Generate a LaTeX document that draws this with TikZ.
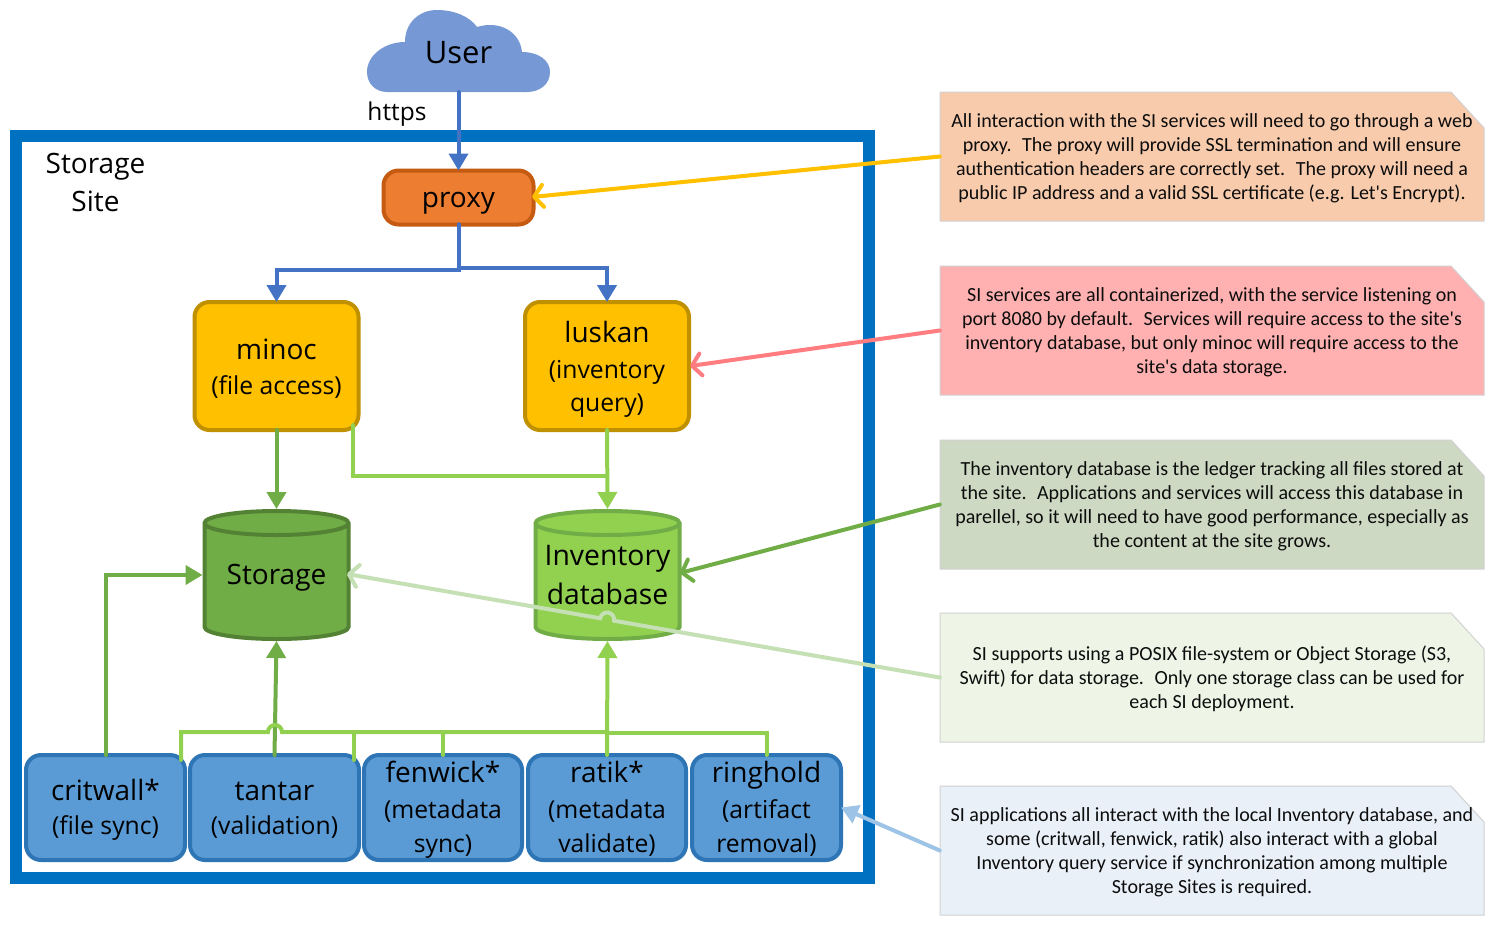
\documentclass[tikz,border=0pt]{standalone}
\usepackage{fontspec}
\setmainfont{Open Sans}
\newfontfamily\notefont{Carlito}
\usetikzlibrary{arrows.meta}
\definecolor{cframe}{HTML}{0070C0}
\definecolor{cblue}{HTML}{4472C4}
\definecolor{cgreen}{HTML}{70AD47}
\definecolor{clime}{HTML}{92D050}
\definecolor{cyellow}{HTML}{FFC000}
\definecolor{cpink}{HTML}{FF7C80}
\definecolor{cpale}{HTML}{C5E0B4}
\definecolor{csky}{HTML}{9DC3E6}
\definecolor{amberline}{HTML}{BF9000}
\definecolor{appline}{HTML}{2E75B6}
\definecolor{appfill}{HTML}{5B9BD5}
\definecolor{cloudc}{HTML}{7698D4}
\definecolor{proxyline}{HTML}{C55A11}
\definecolor{proxyfill}{HTML}{ED7D31}
\definecolor{cylD}{HTML}{548235}
\definecolor{noteA}{HTML}{F8CBAD}
\definecolor{noteB}{HTML}{FFB0B0}
\definecolor{noteC}{HTML}{CDD9C3}
\definecolor{noteD}{HTML}{EEF5E7}
\definecolor{noteE}{HTML}{E9F0F8}
\newcommand{\bigtxt}{\fontsize{28}{30}\selectfont}
\newcommand{\Tp}{\rule{0pt}{27.5pt}}
\newcommand{\Bt}{\rule[-8pt]{0pt}{0pt}}
\newcommand{\Ta}{\rule{0pt}{32pt}}
\newcommand{\Ba}{\rule[-10pt]{0pt}{0pt}}
\newcommand{\Nt}{\rule{0pt}{18pt}}
\tikzset{
  x=1pt,y=-1pt,
  conn/.style={line width=4pt,line cap=round,line join=miter},
  tip/.style={-{Triangle[length=17pt,width=19pt]}},
  barb/.style={-{Straight Barb[length=9pt,width=22pt,round]}},
  svc/.style={rounded corners=15pt,line width=4pt,align=center,inner sep=0pt,outer sep=0pt,text=black,
    font=\fontsize{24.7}{30}\selectfont},
  amber/.style={svc,draw=amberline,fill=cyellow,minimum width=164pt,minimum height=128pt},
  app/.style={svc,draw=appline,fill=appfill,minimum height=105pt},
  notebox/.style={line width=1pt,draw=black!18},
  notetxt/.style={minimum width=544pt,minimum height=129pt,inner sep=0pt,align=center,
    font=\notefont\fontsize{20.04}{24}\selectfont,text=black!95},
  cylbody/.style={line width=4pt},
  lbl/.style={align=center,inner sep=0pt,font=\fontsize{24.5}{38}\selectfont}
}
\newcommand{\notepoly}[2]{%
  \draw[notebox,fill=#2] (940,#1) -- (1451,#1) -- (1484,#1+36) -- (1484,#1+129) -- (940,#1+129) -- cycle;}
\newcommand{\cyl}[3]{%
  \draw[cylbody,draw=#2,fill=#3] (#1-72,523) arc[start angle=180,end angle=0,x radius=72pt,y radius=12pt]
    -- (#1+72,627) arc[start angle=0,end angle=-180,x radius=72pt,y radius=12pt] -- cycle;
  \draw[cylbody,draw=#2] (#1-72,523) arc[start angle=180,end angle=360,x radius=72pt,y radius=12pt];}
\begin{document}
\begin{tikzpicture}
\useasboundingbox (0,0) rectangle (1498,926);
\fill[white] (0,0) rectangle (1498,926);
% frame
\node[draw=cframe,line width=12pt,minimum width=853pt,minimum height=742.5pt,inner sep=0pt] (frame) at (442.5,506.75) {};
\node[lbl,font=\fontsize{28}{38}\selectfont] (sitelbl) at (95.5,182) {\rule{0pt}{31.4pt}Storage\\Site\rule[-11.4pt]{0pt}{0pt}};
% cloud
\fill[fill=cloudc] (387,92) .. controls (375,92) and (367,83) .. (367,72)
  .. controls (367,55) and (385,42) .. (405,42)
  .. controls (405,22) and (420,10) .. (437,10)
  .. controls (455,10) and (470,17) .. (477,27)
  .. controls (500,20) and (520,32) .. (522,52)
  .. controls (538,52) and (550,60) .. (550,72)
  .. controls (550,84) and (540,92) .. (527,92) -- cycle;
\node[inner sep=0pt,outer sep=0pt,minimum width=183pt,minimum height=82pt,font=\fontsize{31}{36}\selectfont] (user) at (458.5,51) {\rule{0pt}{36pt}User\rule[-12pt]{0pt}{0pt}};
\node[lbl] (https) at (397,111) {\rule{0pt}{30pt}https\rule[-12pt]{0pt}{0pt}};
% services
\node[svc,draw=proxyline,fill=proxyfill,minimum width=150pt,minimum height=54pt,font=\bigtxt] (proxy) at (458.5,197.5) {\rule{0pt}{30pt}proxy\rule[-10pt]{0pt}{0pt}};
\node[amber] (minoc) at (276.5,366) {\Ta{\bigtxt minoc}\\[5pt](file access)\Ba};
\node[amber] (luskan) at (607,366) {\Ta{\bigtxt luskan}\\[6pt](inventory\\[3pt]query)\Ba};
% cylinders
\cyl{276.5}{cylD}{cgreen}
\cyl{607.5}{cgreen}{clime}
\node[inner sep=0pt,outer sep=0pt,minimum width=148pt,minimum height=132pt,font=\bigtxt] (storage) at (276.5,575) {\rule{0pt}{30pt}Storage\rule[-12pt]{0pt}{0pt}};
\node[inner sep=0pt,outer sep=0pt,minimum width=148pt,minimum height=132pt,align=center,font=\fontsize{28.3}{38.5}\selectfont] (inv) at (607.5,575) {\rule{0pt}{31.5pt}Inventory\\database\rule[-11.5pt]{0pt}{0pt}};
% apps
\node[app,minimum width=159pt] (critwall) at (105.5,807.5) {\Tp{\bigtxt critwall*}\\[4pt](file sync)\Bt};
\node[app,minimum width=169pt] (tantar) at (274.5,807.5) {\Tp{\bigtxt tantar}\\[4pt](validation)\Bt};
\node[app,minimum width=158pt] (fenwick) at (443,807.5) {\Tp{\bigtxt fenwick*}\\[6pt](metadata\\[3.5pt]sync)\Bt};
\node[app,minimum width=158pt] (ratik) at (607,807.5) {\Tp{\bigtxt ratik*}\\[6pt](metadata\\[3.5pt]validate)\Bt};
\node[app,minimum width=149pt] (ringhold) at (766.5,807.5) {\Tp{\bigtxt ringhold}\\[6pt](artifact\\[3.5pt]removal)\Bt};
% notes
\notepoly{92}{noteA}
\notepoly{266}{noteB}
\notepoly{440}{noteC}
\notepoly{613}{noteD}
\notepoly{786}{noteE}
\node[notetxt] (n1) at (1212,156.5) {\Nt All interaction with the SI services will need to go through a web\\proxy.~ The proxy will provide SSL termination and will ensure\\authentication headers are correctly set.~ The proxy will need a\\public IP address and a valid SSL certificate (e.g. Let's Encrypt).};
\node[notetxt] (n2) at (1212,330.5) {\Nt SI services are all containerized, with the service listening on\\port 8080 by default.~ Services will require access to the site's\\inventory database, but only minoc will require access to the\\site's data storage.};
\node[notetxt] (n3) at (1212,504.5) {\Nt The inventory database is the ledger tracking all files stored at\\the site.~ Applications and services will access this database in\\parellel, so it will need to have good performance, especially as\\the content at the site grows.};
\node[notetxt] (n4) at (1212,677.5) {\Nt SI supports using a POSIX file-system or Object Storage (S3,\\Swift) for data storage.~ Only one storage class can be used for\\each SI deployment.};
\node[notetxt] (n5) at (1212,850.5) {\Nt SI applications all interact with the local Inventory database, and\\some (critwall, fenwick, ratik) also interact with a global\\Inventory query service if synchronization among multiple\\Storage Sites is required.};
% connectors
\draw[conn,tip,cblue] (user.south) -- (proxy.north);
\draw[conn,tip,cblue] (proxy.south) -- ++(0,45) -| (minoc.north);
\draw[conn,tip,cblue] (proxy.south) -- ++(0,43) -| (luskan.north);
\draw[conn,tip,cgreen] (minoc.south) -- (storage.north);
\coordinate (minocout) at (353,425);
\draw[conn,tip,clime] (luskan.south) -- (inv.north);
\draw[conn,clime] (minocout) |- (607,476);
\draw[conn,tip,cgreen] (critwall.north) |- (storage.west);
\draw[conn,tip,cgreen] (tantar.north) -- (storage.south);
\draw[conn,tip,clime] (ratik.north) -- (inv.south);
\coordinate (busL) at (181,760);
\coordinate (busR) at (354,760);
\draw[conn,clime] (busL) -- (181,732) -- (268,732) arc[start angle=180,end angle=0,radius=7pt] -- (607,732);
\draw[conn,clime] (busR) -- (354,732);
\draw[conn,clime] (fenwick.north) -- (443,732);
\draw[conn,clime] (ringhold.north) -- (766.5,733) -- (607,733);
% callout connectors
\coordinate (proxyin) at (532,197);
\coordinate (luskanin) at (690,366);
\coordinate (invin) at (680,573);
\coordinate (storagein) at (347,574);
\draw[conn,barb,cyellow] (n1.west) -- (proxyin);
\draw[conn,barb,cpink] (n2.west) -- (luskanin);
\draw[conn,barb,cgreen] (n3.west) -- (invin);
\draw[conn,barb,cpale] (n4.west) -- (614,620.7) arc[start angle=-10,end angle=170,radius=7pt] -- (storagein);
\draw[conn,tip,csky] (n5.west) -- (ringhold.east);
\end{tikzpicture}
\end{document}
